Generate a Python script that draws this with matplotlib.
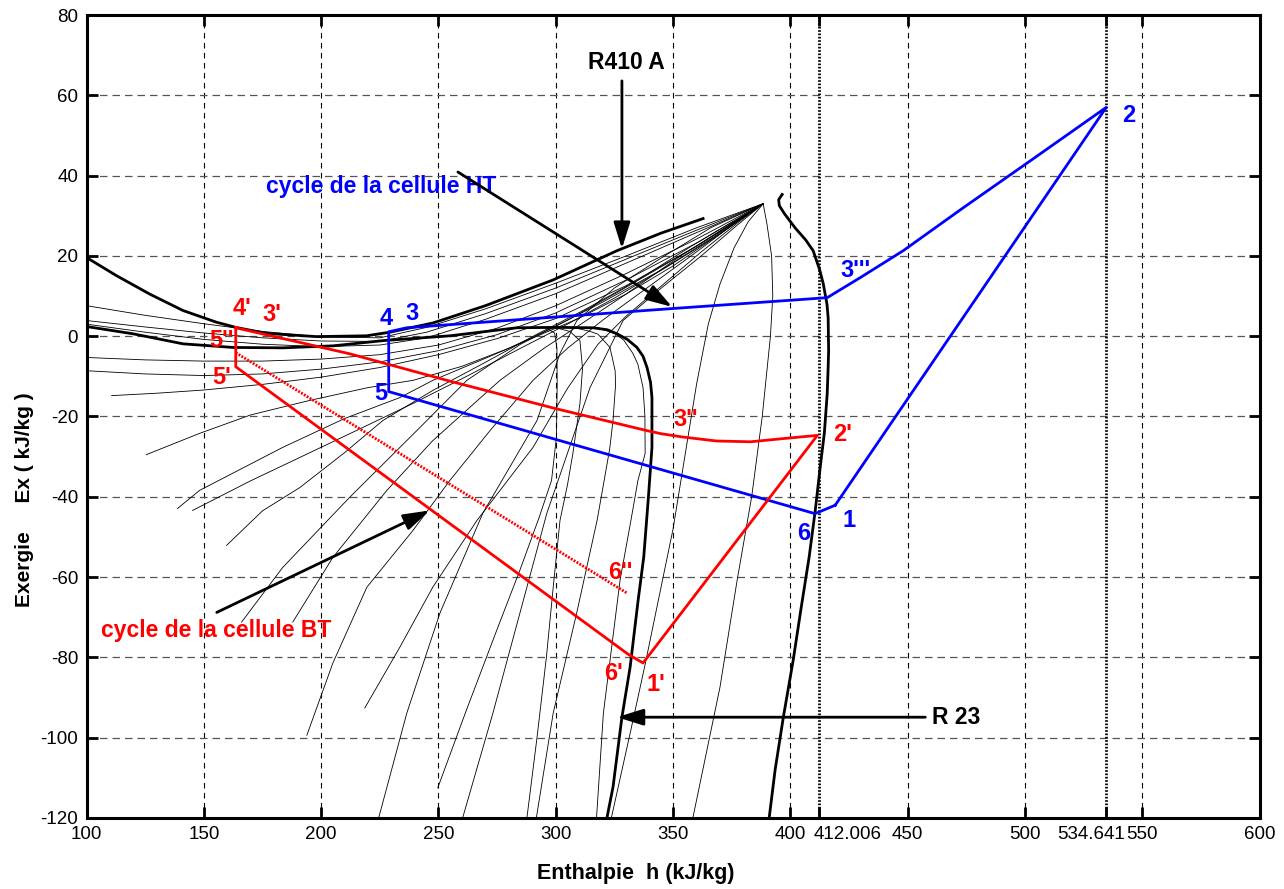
import matplotlib
matplotlib.use("Agg")
import matplotlib.pyplot as plt
from matplotlib.transforms import ScaledTranslation

plt.rcParams['font.family'] = ['Liberation Sans', 'DejaVu Sans']
plt.rcParams['axes.unicode_minus'] = False

# ---------------- data ----------------
x_ticks = [100, 150, 200, 250, 300, 350, 400, 412.006, 450, 500, 534.641, 550, 600]
x_tick_labels = ['100', '150', '200', '250', '300', '350', '400', '412.006', '450', '500', '534.641', '550', '600']
y_ticks = [-120, -100, -80, -60, -40, -20, 0, 20, 40, 60, 80]
special_h = [412.006, 534.641]

# thick saturation curves
r410_left_h = [100, 112.7, 126.9, 141.1, 155.3, 163.6, 176.7, 198, 219.3, 229.3, 247.7, 270, 298.8, 326.1, 345, 362.8]
r410_left_ex = [19.6, 15.1, 10.5, 6.4, 3.5, 2.2, 0.7, -0.1, 0.1, 1.0, 3.3, 7.6, 14.0, 21.3, 25.7, 29.3]
r410_right_h = [396.5, 395.0, 395.3, 397.5, 402, 406.5, 409.7, 412.5, 414, 415.6, 416.1, 416.3, 416.1, 415.7, 414.5, 412.7, 410.6, 408, 404.5, 401.2, 397, 393.5, 391]
r410_right_ex = [35.3, 34.0, 32.5, 30.5, 27, 24, 21.3, 16.5, 13.1, 8, 4.6, -3.6, -7.8, -14.3, -24, -32.7, -43.4, -55, -68, -80.7, -94.9, -108, -119.8]
r23_h = [100.1, 119.8, 141.1, 162.4, 183.7, 205.1, 226.4, 254.9, 283.4, 300, 315.9, 322, 326.1, 330.5, 334.6, 337.2, 338.9, 340.4, 341, 341, 339.5, 337.5, 335.1, 331.7, 328.2, 324.4, 321.8]
r23_ex = [2.4, 0.6, -1.9, -2.8, -2.9, -2.4, -1.1, 0.1, 2.1, 2.2, 2.1, 1.6, 0.6, -0.8, -2.8, -5.0, -7.8, -11.5, -15.3, -27.7, -40, -55, -65.8, -82.4, -94.9, -112.3, -120]

# thin iso-lines (h list, Ex list)
thin_A1 = ([100, 125, 150, 175, 200, 225, 245, 270, 300, 330, 360, 388.4],
           [7.6, 5.2, 3.1, 1.2, -0.2, -0.4, 2.2, 6.8, 13.2, 20.0, 27.0, 33])
thin_A2 = ([100, 125, 150, 175, 200, 225, 245, 270, 300, 330, 360, 388.4],
           [3.9, 2.3, 0.8, -0.4, -1.2, -1.3, 1.0, 5.6, 12.0, 19.2, 26.4, 33])
thin_A3 = ([100, 125, 150, 175, 200, 225, 245, 270, 300, 330, 360, 388.4],
           [3.0, 1.0, -0.8, -2.0, -2.6, -2.2, -0.4, 4.2, 10.6, 18.2, 25.8, 33])
thin_A5 = ([100, 125, 150, 175, 200, 225, 250, 275, 300, 330, 360, 388.4],
           [-5.3, -5.9, -6.2, -6.2, -5.7, -4.6, -2.2, 2.0, 7.6, 15.6, 24.2, 33])
thin_A6 = ([100, 125, 150, 175, 200, 225, 250, 275, 300, 330, 360, 388.4],
           [-8.6, -9.4, -9.8, -9.4, -8.2, -6.4, -3.6, 0.4, 5.8, 14.0, 23.2, 33])
thin_A7 = ([110.7, 130, 150, 175, 200, 225, 250, 275, 300, 330, 360, 388.4],
           [-14.8, -14.2, -13.4, -12.0, -10.2, -7.8, -4.6, -0.6, 4.4, 12.6, 22.4, 33])
thin_B1 = ([125.5, 148.2, 170, 195.1, 220, 239.1, 260, 280, 300, 320, 345, 368, 388.4],
           [-29.5, -24.2, -19.6, -16.0, -12.8, -11.0, -7.5, -3.0, 2.5, 8.5, 16.5, 25.0, 33])
thin_B2 = ([138.8, 148.2, 183.6, 210, 233.5, 247.6, 270, 290, 310, 330, 350, 370, 388.4],
           [-42.9, -38.4, -27.7, -20.5, -15.3, -11.0, -5.5, -0.5, 4.5, 10.5, 17.5, 25.5, 33])
thin_B3 = ([145.2, 170, 190.9, 215, 240, 262, 285, 305, 325, 348, 370, 388.4],
           [-43.4, -36.0, -30.2, -23.5, -16.5, -10.0, -3.0, 3.0, 9.5, 17.5, 25.5, 33])
thin_B4 = ([159.7, 175, 190.9, 210, 226.3, 247.6, 270, 292, 312, 335, 358, 388.4],
           [-52.1, -43.5, -37.7, -29.0, -21.0, -13.5, -6.5, 0.5, 6.5, 14.0, 22.5, 33])
thin_B5 = ([166.1, 183.6, 212.2, 240.8, 262.1, 285, 305, 325, 350, 370, 388.4],
           [-71.2, -57.6, -40.1, -23.5, -11.0, -2.0, 4.0, 10.5, 19.0, 26.0, 33])
thin_B6 = ([187.9, 205, 228, 247.6, 276.2, 295, 312, 330, 352, 372, 388.4],
           [-71.2, -55.1, -38.4, -26.0, -11.0, -3.0, 3.5, 10.5, 19.5, 27.0, 33])
thin_B7 = ([193.9, 205, 219.5, 239.1, 254.9, 272, 290.3, 305, 320, 340, 360, 376, 388.4],
           [-99.4, -81.4, -62.5, -48.4, -35.9, -23.5, -11.0, -3.0, 4.0, 12.5, 21.0, 28.0, 33])
thin_B8 = ([218.6, 233.5, 247.6, 266.4, 290.3, 305, 318, 330, 345, 362, 377, 388.4],
           [-92.6, -77.5, -62.5, -45.9, -27.7, -13.0, -2.0, 5.0, 12.5, 21.0, 28.0, 33])
thin_B9 = ([224.6, 236.5, 250.6, 268.9, 292, 301.8, 309, 325, 345, 366, 388.4],
           [-119.8, -93.9, -69.0, -44.1, -21.0, -4.3, 3.9, 12.0, 19.5, 27.0, 33])
thin_B10 = ([260.4, 273.2, 284.7, 296.2, 314.6, 328.7, 345, 362, 377, 388.4],
            [-119.8, -93.9, -69.0, -44.1, -12.8, 3.9, 12.0, 20.0, 27.5, 33])
thin_R1 = ([323.8, 331.7, 338, 344, 350, 355, 360, 365, 370, 376, 382, 388.4],
           [-119.7, -98.9, -82, -65, -48, -30, -12, 3, 13, 22, 28.5, 33])
thin_R2 = ([358.5, 370, 377.3, 383.5, 388, 391.5, 392.5, 392, 390, 388.4],
           [-119.8, -87.4, -60.8, -40, -20, 0, 10, 20, 28, 33])
thin_arch1 = ([249.7, 262, 275, 284.7, 293, 298.2, 300.3, 300.6, 300.5, 299.5, 296],
              [-112.5, -93, -73, -58.3, -45, -35.9, -25, -12, -3, 0.8, 2.0])
thin_arch2 = ([287.7, 292, 296, 299, 301.8, 305, 307.3, 310.3, 311.4, 310.3, 306, 300],
              [-120, -100, -80, -62, -45.9, -37, -29.2, -16.8, -8, -1.1, 1.2, 2.1])
thin_arch3 = ([291.8, 298.9, 308.9, 317.6, 320.1, 323, 324.4, 325.5, 325.3, 323.1, 318, 314.6, 308],
              [-119.7, -93.9, -69, -45.9, -37.7, -28, -21, -12, -8.6, -2.8, 0.5, 1.2, 2.1])
thin_arch4 = ([317.4, 320.3, 327.4, 332, 335, 338.1, 338, 337.2, 335, 332.9, 329, 325.3, 318],
              [-119.7, -93.9, -60.8, -46, -36, -29.2, -20, -12.8, -7, -4.3, -1, 0.6, 2.1])
thin_lines = [thin_A1, thin_A2, thin_A3, thin_A5, thin_A6, thin_A7,
              thin_B1, thin_B2, thin_B3, thin_B4, thin_B5, thin_B6, thin_B7, thin_B8, thin_B9, thin_B10,
              thin_R1, thin_R2, thin_arch1, thin_arch2, thin_arch3, thin_arch4]

# HT cycle (blue): 1 -> 2 -> 3''' -> 3 -> 4 -> 5 -> 6 -> 1
ht_h = [419.1, 534.641, 502.3, 473.7, 448.1, 429.8, 415.7, 350, 236.5, 228.8, 228.8, 410.5, 419.1]
ht_ex = [-42.1, 57.0, 43.7, 32.0, 21.3, 14.6, 9.6, 6.9, 2.1, 1.1, -13.8, -44.2, -42.1]

# BT cycle (red): 4' -> 5' -> 6' -> 1' -> 2' -> 3'' -> 4'
bt_h = [163.6, 163.6, 330.8, 337.2, 411.5, 397, 383, 368.5, 354, 345, 338.7, 299.7, 254.9, 212.3, 163.6]
bt_ex = [2.1, -7.6, -79.2, -81.4, -24.7, -25.5, -26.3, -26.1, -25.1, -24.3, -23.5, -18.0, -11.2, -4.4, 2.1]
bt_dotted_h = [163.6, 330.4]
bt_dotted_ex = [-4.1, -64.0]

ht_labels = ["2", "3'''", "4", "3", "5", "6", "1"]
ht_label_h = [544.1, 427.6, 227.6, 238.7, 225.4, 405.5, 425.1]
ht_label_ex = [54.9, 16.3, 4.4, 5.6, -14.3, -49.1, -45.9]
bt_labels = ["4'", "3'", "5''", "5'", "3''", "2'", "6''", "6'", "1'"]
bt_label_h = [166.1, 178.9, 157.6, 157.6, 355.5, 422.1, 327.4, 324.8, 342.7]
bt_label_ex = [6.9, 5.4, -1.1, -10.3, -20.7, -24.5, -58.8, -83.9, -86.7]

# ---------------- figure ----------------
fig = plt.figure(figsize=(12.84, 8.89), dpi=100)
ax = fig.add_axes([0.0674, 0.0799, 0.9136, 0.9032])
ax.set_xlim(100, 600)
ax.set_ylim(-120, 80)

# grid
for xv in x_ticks:
    if xv in special_h or xv in (100, 600):
        continue
    ax.axvline(xv, color='black', lw=0.8, dashes=(5, 4), zorder=1)
for yv in y_ticks:
    if yv in (-120, 80):
        continue
    ax.axhline(yv, color='#555555', lw=0.9, dashes=(6, 4), zorder=1)
for xv in special_h:
    ax.axvline(xv, color='black', lw=2.0, dashes=(0.6, 0.6), zorder=2)

# thin lines
for hh, ee in thin_lines:
    ax.plot(hh, ee, color='black', lw=0.6, zorder=3)

# thick curves
ax.plot(r410_left_h, r410_left_ex, color='black', lw=2.0, zorder=4)
ax.plot(r410_right_h, r410_right_ex, color='black', lw=2.0, zorder=4)
ax.plot(r23_h, r23_ex, color='black', lw=2.0, zorder=4)

# cycles
ax.plot(ht_h, ht_ex, color='#0000ff', lw=2.0, zorder=5)
ax.plot(bt_h, bt_ex, color='#ff0000', lw=2.0, zorder=5)
ax.plot(bt_dotted_h, bt_dotted_ex, color='#ff0000', lw=2.0, dashes=(0.7, 0.5), zorder=5)

for t, hx, ey in zip(ht_labels, ht_label_h, ht_label_ex):
    ax.text(hx, ey, t, color='#0000ff', fontsize=17, fontweight='bold', ha='center', va='center', zorder=6)
for t, hx, ey in zip(bt_labels, bt_label_h, bt_label_ex):
    ax.text(hx, ey, t, color='#ff0000', fontsize=17, fontweight='bold', ha='center', va='center', zorder=6)

# annotations
arrow_kw = dict(arrowstyle='-|>,head_length=1.6,head_width=0.5', color='black', lw=2.0, shrinkA=0, shrinkB=0)
ax.text(330.2, 68.1, 'R410 A', fontsize=16.5, fontweight='bold', ha='center', va='center')
ax.annotate('', xy=(328.2, 21.8), xytext=(328.2, 63.6), arrowprops=arrow_kw, zorder=7)
ax.text(225.5, 37.2, 'cycle de la cellule HT', color='#0000ff', fontsize=16.5, fontweight='bold', ha='center', va='center')
ax.annotate('', xy=(349.6, 7.3), xytext=(258.3, 40.9), arrowprops=arrow_kw, zorder=7)
ax.text(155.2, -73.2, 'cycle de la cellule BT', color='#ff0000', fontsize=16.5, fontweight='bold', ha='center', va='center')
ax.annotate('', xy=(246.3, -43.4), xytext=(155.5, -68.8), arrowprops=arrow_kw, zorder=7)
ax.text(460.4, -94.9, 'R 23', fontsize=16.5, fontweight='bold', ha='left', va='center')
ax.annotate('', xy=(326.1, -94.9), xytext=(457.5, -94.9), arrowprops=arrow_kw, zorder=7)

# axes styling
ax.set_xticks(x_ticks)
ax.set_xticklabels(x_tick_labels)
ax.set_yticks(y_ticks)
ax.set_yticklabels([str(v) for v in y_ticks])
ax.tick_params(direction='in', length=8, width=2, labelsize=13.5, top=True, right=True, pad=6)
for sp in ax.spines.values():
    sp.set_linewidth(2.2)

# shift the two special tick labels like in the original
label_shift = {'412.006': 29 / 100, '534.641': -15 / 100}
for lab in ax.get_xticklabels():
    if lab.get_text() in label_shift:
        lab.set_transform(lab.get_transform() + ScaledTranslation(label_shift[lab.get_text()], 0, fig.dpi_scale_trans))

fig.text(636 / 1284, 1 - 874 / 889, 'Enthalpie  h (kJ/kg)', fontsize=15.5, fontweight='bold', ha='center', va='center')
fig.text(25 / 1284, 1 - 500 / 889, 'Exergie     Ex ( kJ/kg )', fontsize=15, fontweight='bold', ha='center', va='center', rotation=90)

fig.savefig('out.png', dpi=100)
